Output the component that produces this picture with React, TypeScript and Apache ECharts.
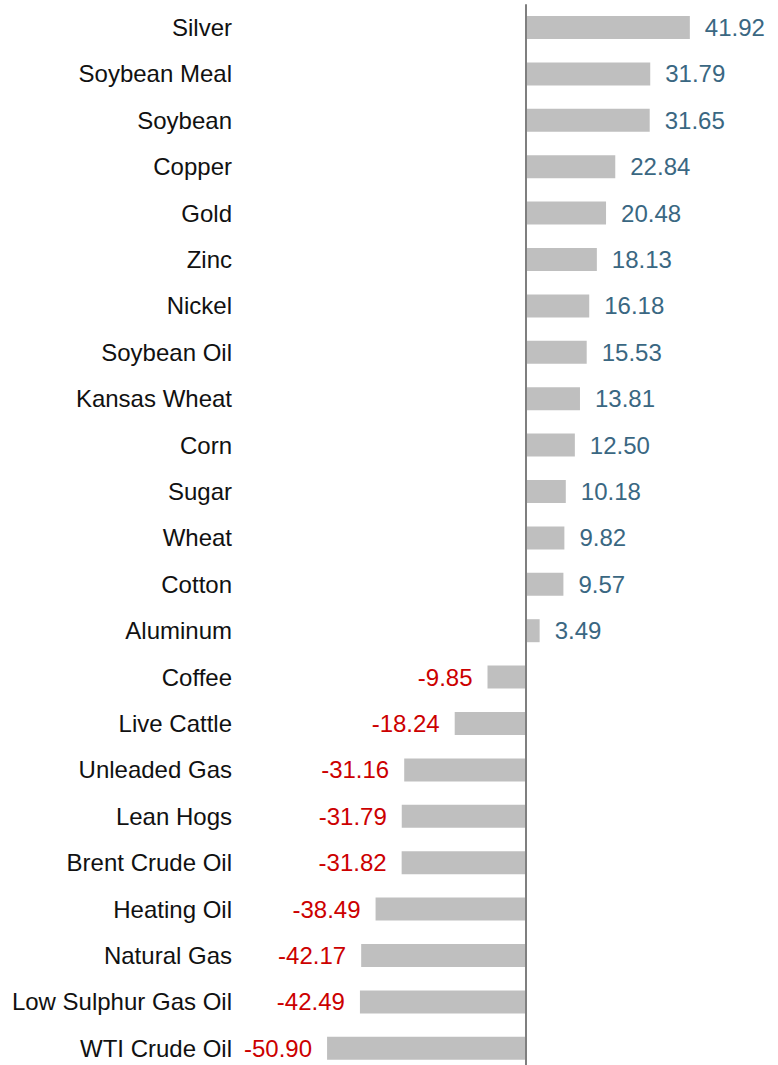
import React, { useEffect, useRef } from "react";
import * as echarts from "echarts";

const categories = [
  "Silver", "Soybean Meal", "Soybean", "Copper", "Gold", "Zinc", "Nickel",
  "Soybean Oil", "Kansas Wheat", "Corn", "Sugar", "Wheat", "Cotton", "Aluminum",
  "Coffee", "Live Cattle", "Unleaded Gas", "Lean Hogs", "Brent Crude Oil",
  "Heating Oil", "Natural Gas", "Low Sulphur Gas Oil", "WTI Crude Oil",
];

const values = [
  41.92, 31.79, 31.65, 22.84, 20.48, 18.13, 16.18, 15.53, 13.81, 12.5, 10.18,
  9.82, 9.57, 3.49, -9.85, -18.24, -31.16, -31.79, -31.82, -38.49, -42.17,
  -42.49, -50.9,
];

const FONT = "'Liberation Sans', Arial, sans-serif";

export default function App() {
  const ref = useRef<HTMLDivElement>(null);
  useEffect(() => {
    if (!ref.current) return;
    const chart = echarts.init(ref.current, undefined, { renderer: "svg" });
    chart.setOption({
      animation: false,
      grid: {
        left: 291.5,
        width: 469,
        top: 4.3,
        height: 1067.2,
        containLabel: false,
        outerBoundsMode: "none",
      },
      xAxis: {
        type: "value",
        min: -60,
        max: 60,
        show: false,
      },
      yAxis: {
        type: "category",
        data: categories,
        inverse: true,
        axisLine: { show: false, onZero: false },
        axisTick: { show: false },
        splitLine: { show: false },
        axisLabel: {
          margin: 59.5,
          fontSize: 24,
          fontFamily: FONT,
          color: "#111111",
        },
      },
      series: [
        {
          type: "bar",
          barWidth: 23,
          itemStyle: { color: "#bfbfbf" },
          data: values.map((v) => ({
            value: v,
            label: {
              show: true,
              position: v >= 0 ? "right" : "left",
              distance: 15,
              color: v >= 0 ? "#3a6782" : "#cc0000",
              fontSize: 24,
              fontFamily: FONT,
              formatter: (p: any) => Number(p.value).toFixed(2),
            },
          })),
          markLine: {
            silent: true,
            symbol: "none",
            label: { show: false },
            lineStyle: { color: "#7f7f7f", width: 2, type: "solid" },
            data: [{ xAxis: 0 }],
          },
        },
      ],
    });
    return () => chart.dispose();
  }, []);
  return (
    <div
      ref={ref}
      style={{ position: "fixed", left: 0, top: 0, width: 778, height: 1080, background: "#fff" }}
    />
  );
}
